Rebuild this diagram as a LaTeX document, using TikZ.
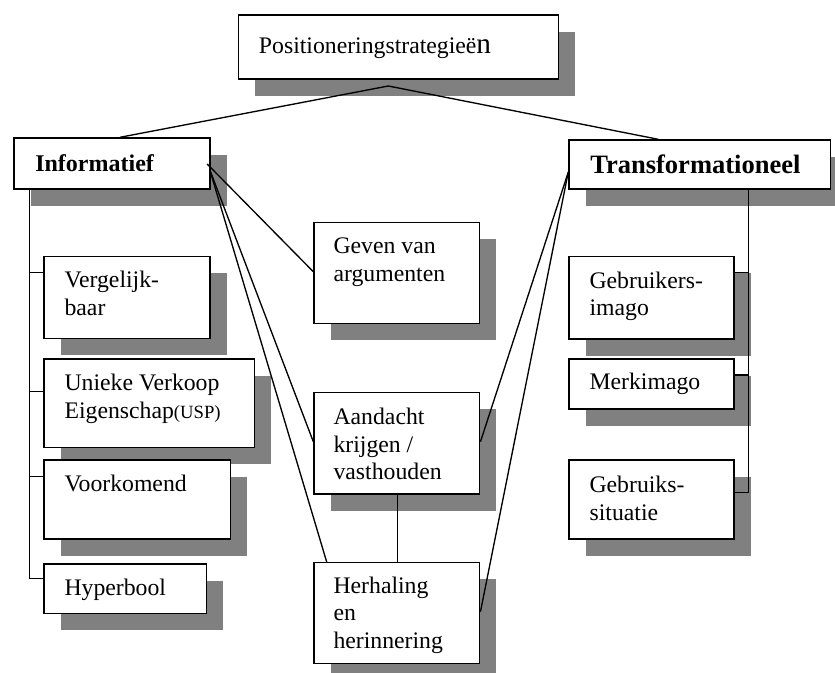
\documentclass[tikz,border=0pt]{standalone}
\usepackage{fontspec}
\setmainfont{Liberation Serif}
\usetikzlibrary{shadows,calc}
\definecolor{shadowgray}{RGB}{128,128,128}
\tikzset{
  sbox/.style 2 args={draw=black, line width=1.1pt, fill=white, rectangle, anchor=north west,
    inner sep=0pt, minimum width=#1*0.75pt, minimum height=#2*0.75pt,
    drop shadow={shadow xshift=12.4pt, shadow yshift=-12.4pt, fill=shadowgray, opacity=1}},
  lbl/.style={anchor=base west, inner sep=0pt, font=\fontsize{17.8}{20.6}\selectfont},
  conn/.style={draw=black, line width=1pt}
}
\newcommand{\lines}[1]{\begin{tabular}[t]{@{}l@{}}#1\end{tabular}}
\begin{document}
\begin{tikzpicture}[x=0.75pt,y=-0.75pt]
\useasboundingbox (0,0) rectangle (835,673);
% boxes
\node[sbox={320}{64}] (top) at (237.7,14.3) {};
\node[sbox={196}{51}] (info) at (13.3,137.3) {};
\node[sbox={261.7}{49}] (trans) at (568.3,139.3) {};
\node[sbox={166}{82}] (verg) at (43.3,256) {};
\node[sbox={210.7}{88.4}] (usp) at (43.3,358.3) {};
\node[sbox={186.7}{79}] (voork) at (43.3,459.3) {};
\node[sbox={162.4}{49.4}] (hyper) at (43.3,563.3) {};
\node[sbox={165.7}{101}] (geven) at (313.3,222) {};
\node[sbox={165.7}{101.6}] (aand) at (313.3,391.7) {};
\node[sbox={165.7}{101}] (herh) at (313.3,561.7) {};
\node[sbox={165}{82.3}] (gebr) at (568.3,256) {};
\node[sbox={165}{50}] (merk) at (568.3,358.3) {};
\node[sbox={165}{79}] (gsit) at (568.3,459.3) {};
% texts
\node[lbl] (ttop) at ($(top.north west)+(21,39)$) {Positioneringstrategie\"e{\fontsize{22}{24}\selectfont n}};
\node[lbl, font=\fontsize{18}{21}\selectfont\bfseries] (tinfo) at ($(info.north west)+(21.7,34)$) {Informatief};
\node[lbl, font=\fontsize{19.9}{22}\selectfont\bfseries] (ttrans) at ($(trans.north west)+(21.7,34)$) {Transformationeel};
\node[lbl] (tverg) at ($(verg.north west)+(21,32)$) {\lines{Vergelijk-\\baar}};
\node[lbl] (tusp) at ($(usp.north west)+(21,32.4)$) {\lines{Unieke Verkoop\\Eigenschap{\fontsize{14}{16}\selectfont(USP)}}};
\node[lbl] (tvoork) at ($(voork.north west)+(21,32.4)$) {Voorkomend};
\node[lbl] (thyper) at ($(hyper.north west)+(21,31.7)$) {Hyperbool};
\node[lbl] (tgeven) at ($(geven.north west)+(20,32)$) {\lines{Geven van\\argumenten}};
\node[lbl] (taand) at ($(aand.north west)+(20,33)$) {\lines{Aandacht\\krijgen /\\vasthouden}};
\node[lbl] (therh) at ($(herh.north west)+(20,31.6)$) {\lines{Herhaling\\en\\herinnering}};
\node[lbl] (tgebr) at ($(gebr.north west)+(21,32.3)$) {\lines{Gebruikers-\\imago}};
\node[lbl] (tmerk) at ($(merk.north west)+(21,31.7)$) {Merkimago};
\node[lbl] (tgsit) at ($(gsit.north west)+(21,33.4)$) {\lines{Gebruiks-\\situatie}};
% connectors
\coordinate (apex) at (388.3,86);
\draw[conn] ($(info.north west)+(106.7,0)$) -- (apex) -- ($(trans.north west)+(90,0)$);
\draw[conn] ($(info.north east)+(-3.6,26.7)$) -- ($(geven.north west)+(0,49.7)$);
\draw[conn] ($(info.north east)+(-1,32.5)$) -- ($(aand.north west)+(0,50)$);
\draw[conn] ($(info.north east)+(-1,32.5)$) -- ($(herh.north west)+(13.4,0.3)$);
\draw[conn] ($(trans.north west)+(0,32.7)$) -- ($(aand.north east)+(0,50)$);
\draw[conn] ($(trans.north west)+(0,32.7)$) -- ($(herh.north east)+(0,50)$);
\draw[conn] ($(aand.south west)+(84.4,0)$) -- ($(herh.north west)+(84.4,0)$);
% left tree
\coordinate (lspine) at ($(info.south west)+(16,0)$);
\draw[conn] (lspine) |- ($(hyper.north west)+(0,15)$);
\draw[conn] ($(verg.north west)+(0,16.7)$) -| (lspine);
\draw[conn] ($(usp.north west)+(0,33.4)$) -| (lspine);
\draw[conn] ($(voork.north west)+(0,17.4)$) -| (lspine);
% right tree
\coordinate (rspine) at ($(trans.south west)+(180,0)$);
\draw[conn] (rspine) |- ($(gsit.north east)+(0,33.4)$);
\draw[conn] ($(gebr.north east)+(0,16.7)$) -| (rspine);
\draw[conn] ($(merk.north east)+(0,16.7)$) -| (rspine);
\end{tikzpicture}
\end{document}
